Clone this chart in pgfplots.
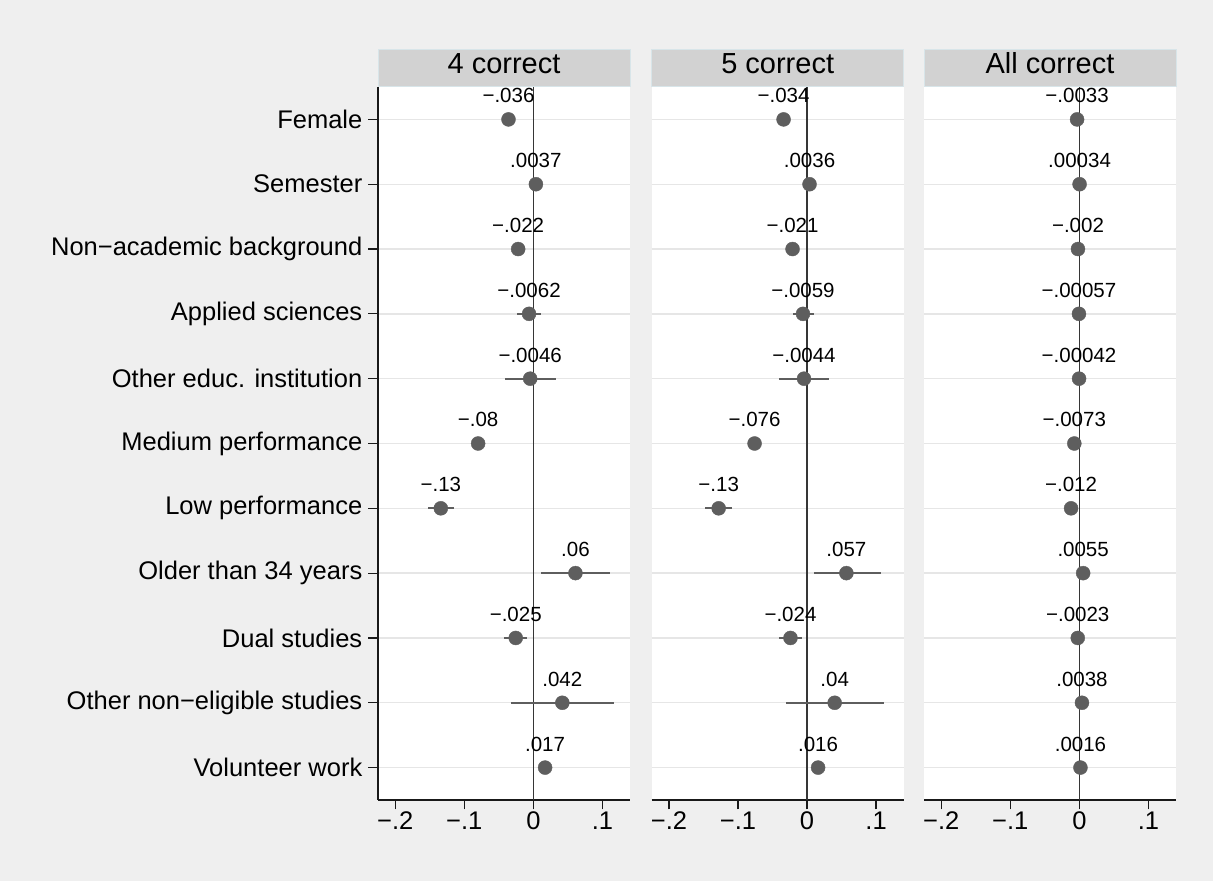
\documentclass[border=0pt]{standalone}
\usepackage{pgfplots}
\pgfplotsset{compat=1.18}
\usepackage{pgfplotstable}
\usepackage{fontspec}
\setmainfont{Liberation Sans}
\definecolor{bg}{HTML}{EFEFEF}
\definecolor{hdr}{HTML}{D2D2D2}
\definecolor{hdrb}{HTML}{D8E5E9}
\definecolor{mk}{HTML}{5E5E5E}
\definecolor{grd}{HTML}{E6E6E6}
\definecolor{zl}{HTML}{363636}

% y: 11 = Female (top) ... 1 = Volunteer work (bottom)
\pgfplotstableread{
y x ep em lab
11 -0.036 0.006 0.006 −.036
10 0.0037 0.002 0.002 .0037
9 -0.022 0.006 0.006 −.022
8 -0.0062 0.017 0.017 −.0062
7 -0.0046 0.038 0.037 −.0046
6 -0.080 0.008 0.008 −.08
5 -0.134 0.019 0.018 −.13
4 0.061 0.050 0.050 .06
3 -0.0255 0.017 0.017 −.025
2 0.042 0.075 0.074 .042
1 0.017 0.006 0.006 .017
}\tA

\pgfplotstableread{
y x ep em lab
11 -0.034 0.006 0.006 −.034
10 0.0036 0.002 0.002 .0036
9 -0.021 0.006 0.006 −.021
8 -0.0059 0.016 0.015 −.0059
7 -0.0044 0.036 0.036 −.0044
6 -0.076 0.008 0.008 −.076
5 -0.128 0.020 0.020 −.13
4 0.057 0.050 0.047 .057
3 -0.024 0.017 0.016 −.024
2 0.040 0.072 0.071 .04
1 0.016 0.006 0.006 .016
}\tB

\pgfplotstableread{
y x ep em lab
11 -0.0033 0.002 0.002 −.0033
10 0.00034 0.002 0.002 .00034
9 -0.002 0.002 0.002 −.002
8 -0.00057 0.002 0.002 −.00057
7 -0.00042 0.002 0.002 −.00042
6 -0.0073 0.002 0.002 −.0073
5 -0.012 0.002 0.002 −.012
4 0.0055 0.002 0.002 .0055
3 -0.0023 0.002 0.002 −.0023
2 0.0038 0.002 0.002 .0038
1 0.0016 0.002 0.002 .0016
}\tC

\pgfplotsset{
  panel/.style={
    scale only axis, width=252pt, height=713pt, anchor=south west,
    xmin=-0.225, xmax=0.14, ymin=0.5, ymax=11.5,
    axis background/.style={fill=white},
    axis x line*=bottom, axis y line*=left,
    axis line style={-, draw=black!90, line width=1.2pt},
    tick align=outside, major tick length=9.5pt,
    xtick={-0.2,-0.1,0,0.1}, xticklabels={−.2,−.1,0,.1},
    ytick={1,...,11},
    ymajorgrids, major grid style={grd, line width=1.3pt},
    tick style={black!90, line width=1.2pt},
    tick label style={font=\fontsize{25.5}{25.5}\selectfont, inner sep=2pt},
    yticklabel style={xshift=-4pt},
    title style={at={(0.5,1)}, anchor=south, yshift=-6pt, fill=hdr, draw=hdrb,
      line width=0.8pt, minimum width=252pt, minimum height=37pt, inner sep=0pt,
      text height=21pt, text depth=11pt,
      font=\fontsize{29}{29}\selectfont},
    clip=false,
  },
  dots/.style={
    only marks, mark=*, mark size=7pt, mark options={fill=mk, draw=mk},
    error bars/x dir=both, error bars/x explicit, error bars/error mark=none,
    error bars/error bar style={mk, line width=2pt},
  },
  lbl/.style={
    nodes near coords, point meta=explicit symbolic,
    every node near coord/.append style={anchor=base, yshift=16.5pt,
      font=\fontsize{20.5}{20.5}\selectfont, text=black},
  },
}

\begin{document}
\begin{tikzpicture}
\fill[bg] (0,0) rectangle (1213pt,881pt);

\begin{axis}[panel, at={(378pt,81pt)}, title={4 correct},
  yticklabels={Volunteer work, Other non−eligible studies, Dual studies,
    Older than 34 years, Low performance, Medium performance,
    Other educ. institution, Applied sciences, Non−academic background,
    Semester, Female}]
  \draw[zl, line width=1.6pt] (axis cs:0,0.5) -- (axis cs:0,11.5);
  \addplot[dots, lbl] table[x=x, y=y, x error plus=ep, x error minus=em, meta=lab] {\tA};
\end{axis}

\begin{axis}[panel, at={(651.7pt,81pt)}, title={5 correct},
  yticklabels={}, y axis line style={draw=none}, ytick style={draw=none}]
  \draw[zl, line width=1.6pt] (axis cs:0,0.5) -- (axis cs:0,11.5);
  \addplot[dots, lbl] table[x=x, y=y, x error plus=ep, x error minus=em, meta=lab] {\tB};
\end{axis}

\begin{axis}[panel, at={(924pt,81pt)}, title={All correct},
  yticklabels={}, y axis line style={draw=none}, ytick style={draw=none}]
  \draw[zl, line width=1.6pt] (axis cs:0,0.5) -- (axis cs:0,11.5);
  \addplot[dots, lbl] table[x=x, y=y, x error plus=ep, x error minus=em, meta=lab] {\tC};
\end{axis}
\end{tikzpicture}
\end{document}
